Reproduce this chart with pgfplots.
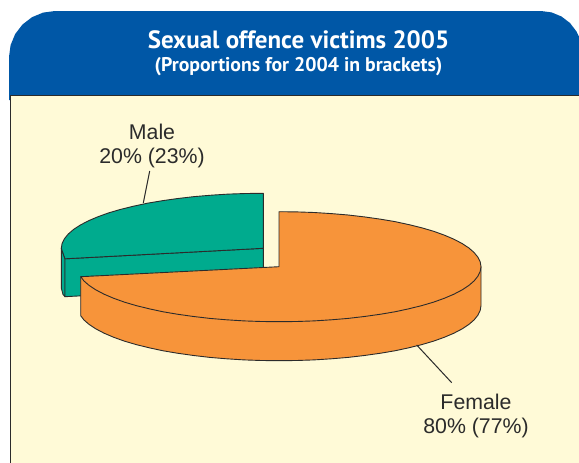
\documentclass[border=0pt]{standalone}
\usepackage{fontspec}
\setmainfont{Liberation Sans}
\newfontfamily\titlefont{PT Sans}
\usepackage{pgfplots}
\pgfplotsset{compat=1.18}
\definecolor{panel}{HTML}{FFFAD7}
\definecolor{header}{HTML}{0057A6}
\definecolor{maleg}{HTML}{00AB8E}
\definecolor{femaleo}{HTML}{F7943A}
\definecolor{ink}{HTML}{2B2B2B}
\begin{document}
\begin{tikzpicture}
\begin{axis}[
    scale only axis,
    width=579pt, height=463pt,
    xmin=0, xmax=579, ymin=0, ymax=463,
    y dir=reverse,
    axis lines=none,
    ticks=none,
    clip=true,
    every axis plot/.append style={mark=none, line join=round},
]
% page ground, keeps the picture at full size
\addplot[fill=white, draw=none] coordinates {(0,0) (579,0) (579,463) (0,463)} -- cycle;
% header
\addplot[fill=header, draw=none] coordinates {
  (9,100) (9,57) (10.6,45.1) (15.2,34) (22.5,24.5) (32,17.2) (43.1,12.6) (55,11)
  (541,11) (551.6,12.4) (561.5,16.5) (570,23) (576.5,31.5) (579,36.7) (590,36.7) (590,100)} -- cycle;
% panel
\addplot[fill=panel, draw=ink, line width=1pt] coordinates {
  (10,95) (590,95) (590,470) (10,470)} -- cycle;

% male slice: side strip, front face, top face
\addplot[fill=maleg, draw=ink, line width=0.9pt] coordinates {
  (61.3,248.3) (65,258.8) (65,296.7) (63,294.5) (61.3,288)} -- cycle;
\addplot[fill=maleg, draw=ink, line width=0.9pt] coordinates {
  (65,258.8) (263.3,248.3) (263.3,286) (65,296.7)} -- cycle;
\addplot[fill=maleg, draw=ink, line width=0.9pt] coordinates {
  (263.3,248.3) (65,258.8) (61.3,248.3) (62.1,243.5) (64.4,238.8) (68.2,234.1) (73.5,229.5)
  (80.2,225.1) (88.4,220.8) (97.8,216.8) (108.6,212.9) (120.5,209.4) (133.5,206.2)
  (147.4,203.2) (162.3,200.7) (177.9,198.5) (194.2,196.6) (211,195.2) (228.2,194.1)
  (245.7,193.5) (263.3,193.3)} -- cycle;

% female slice: side, top face
\addplot[fill=femaleo, draw=ink, line width=0.9pt] coordinates {
  (481,266.7) (481,305.7) (480.2,310.5) (477.9,315.2) (474.1,319.9) (468.8,324.5)
  (462.1,328.9) (453.9,333.2) (444.5,337.2) (433.7,341.1) (421.8,344.6) (408.8,347.8)
  (394.9,350.8) (380,353.3) (364.4,355.5) (348.1,357.4) (331.3,358.8) (314.1,359.9)
  (296.6,360.5) (279,360.7) (261.4,360.5) (243.9,359.9) (226.7,358.8) (209.9,357.4)
  (193.6,355.5) (178,353.3) (163.1,350.8) (149.2,347.8) (136.2,344.6) (124.3,341.1)
  (113.5,337.2) (104.1,333.2) (95.9,328.9) (89.2,324.5) (83.9,319.9) (80.7,315.7)
  (80.7,276.7)} -- cycle;
\addplot[fill=femaleo, draw=ink, line width=0.9pt] coordinates {
  (279,266.7) (279,211.7) (296.6,211.9) (314.1,212.5) (331.3,213.6) (348.1,215)
  (364.4,216.9) (380,219.1) (394.9,221.6) (408.8,224.6) (421.8,227.8) (433.7,231.3)
  (444.5,235.2) (453.9,239.2) (462.1,243.5) (468.8,247.9) (474.1,252.5) (477.9,257.2)
  (480.2,261.9) (481,266.7) (480.2,271.5) (477.9,276.2) (474.1,280.9) (468.8,285.5)
  (462.1,289.9) (453.9,294.2) (444.5,298.2) (433.7,302.1) (421.8,305.6) (408.8,308.8)
  (394.9,311.8) (380,314.3) (364.4,316.5) (348.1,318.4) (331.3,319.8) (314.1,320.9)
  (296.6,321.5) (279,321.7) (261.4,321.5) (243.9,320.9) (226.7,319.8) (209.9,318.4)
  (193.6,316.5) (178,314.3) (163.1,311.8) (149.2,308.8) (136.2,305.6) (124.3,302.1)
  (113.5,298.2) (104.1,294.2) (95.9,289.9) (89.2,285.5) (83.9,280.9) (80.7,276.7)} -- cycle;

% leaders
\addplot[draw=ink, line width=1pt] coordinates {(143.3,203) (149.7,171)};
\addplot[draw=ink, line width=1pt] coordinates {(416.7,345) (451.7,382.7)};

% text
\node[text=white, font=\titlefont\bfseries\fontsize{25}{28}\selectfont] at (axis cs:298.5,40) {Sexual offence victims 2005};
\node[text=white, font=\titlefont\bfseries\fontsize{19.8}{22}\selectfont] at (axis cs:298.5,67) {(Proportions for 2004 in brackets)};
\node[text=ink, font=\fontsize{21.3}{26}\selectfont] at (axis cs:152,132) {Male};
\node[text=ink, font=\fontsize{21.3}{26}\selectfont] at (axis cs:152,158) {20\% (23\%)};
\node[text=ink, font=\fontsize{21.3}{26}\selectfont] at (axis cs:476,402) {Female};
\node[text=ink, font=\fontsize{21.3}{26}\selectfont] at (axis cs:476,428) {80\% (77\%)};
\end{axis}
\end{tikzpicture}
\end{document}
